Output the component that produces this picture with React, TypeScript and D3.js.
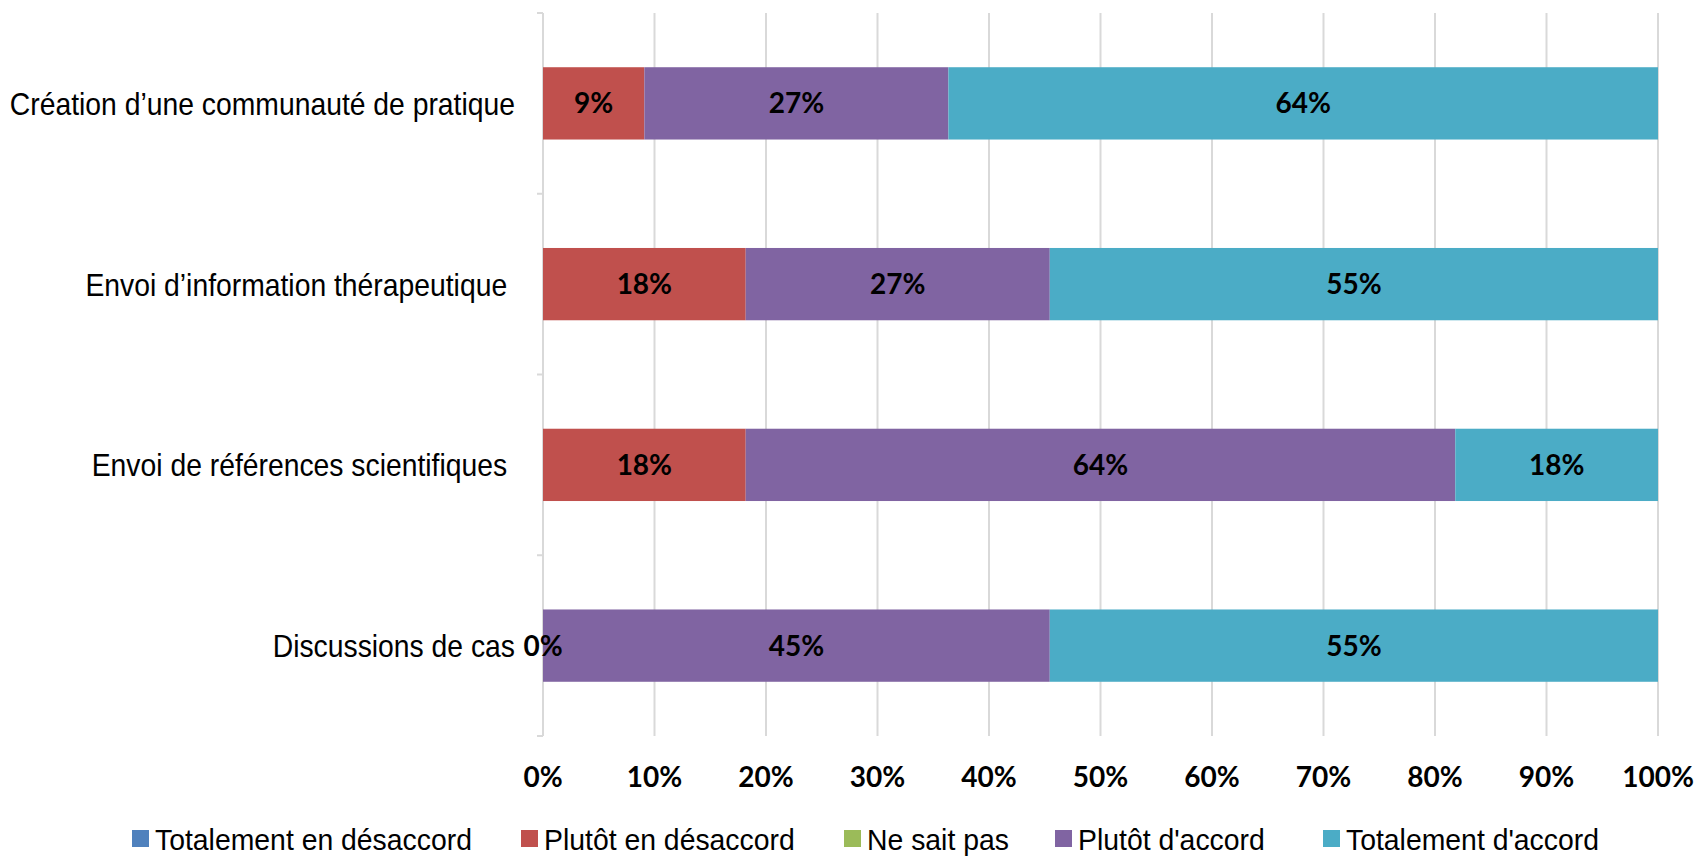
import React from "react";
import * as d3 from "d3";

const categories = [
  "Création d’une communauté de pratique",
  "Envoi d’information thérapeutique ",
  "Envoi de références scientifiques ",
  "Discussions de cas",
];
const seriesNames = [
  "Totalement en désaccord",
  "Plutôt en désaccord",
  "Ne sait pas",
  "Plutôt d'accord",
  "Totalement d'accord",
];
const seriesColors = ["#4F81BD", "#C0504D", "#9BBB59", "#8064A2", "#4BACC6"];
const totalementDesaccord: (number | null)[] = [null, null, null, null];
const plutotDesaccord: (number | null)[] = [9.09, 18.18, 18.18, 0];
const neSaitPas: (number | null)[] = [null, null, null, null];
const plutotAccord: (number | null)[] = [27.27, 27.27, 63.64, 45.45];
const totalementAccord: (number | null)[] = [63.64, 54.55, 18.18, 54.55];
const xTicks = [0, 10, 20, 30, 40, 50, 60, 70, 80, 90, 100];

const seriesValues = [totalementDesaccord, plutotDesaccord, neSaitPas, plutotAccord, totalementAccord];

const W = 1697;
const H = 856;
const narrow = "'Liberation Sans', Arial, sans-serif";
const boldFont = "Lato, 'Open Sans', sans-serif";

export default function App() {
  const x = d3.scaleLinear().domain([0, 100]).range([543, 1658]);
  const y = d3
    .scaleBand<string>()
    .domain(categories)
    .range([13, 736])
    .paddingInner(0.6)
    .paddingOuter(0.3);
  const step = y.step();
  const boundaries = d3.range(categories.length + 1).map((i) => 13 + i * step);

  const segments: { key: string; x0: number; x1: number; yy: number; color: string; v: number }[] = [];
  categories.forEach((c, ci) => {
    let acc = 0;
    seriesValues.forEach((vals, si) => {
      const v = vals[ci];
      if (v === null) return;
      segments.push({ key: `${ci}-${si}`, x0: acc, x1: acc + v, yy: y(c)!, color: seriesColors[si], v });
      acc += v;
    });
  });

  const legendX = [132, 521, 844, 1055, 1323];

  return (
    <svg
      width={W}
      height={H}
      style={{ position: "absolute", left: 0, top: 0, background: "#fff" }}
    >
      {/* gridlines */}
      {xTicks.map((t) => (
        <line key={t} x1={x(t)} x2={x(t)} y1={13} y2={736} stroke="#D9D9D9" strokeWidth={2} />
      ))}
      {/* left ticks */}
      {boundaries.map((b, i) => (
        <line key={i} x1={x(0) - 6} x2={x(0)} y1={b} y2={b} stroke="#D9D9D9" strokeWidth={2} />
      ))}
      {/* bars */}
      {segments.map((s) => (
        <rect
          key={s.key}
          x={x(s.x0)}
          y={s.yy}
          width={x(s.x1) - x(s.x0)}
          height={y.bandwidth()}
          fill={s.color}
        />
      ))}
      {/* data labels */}
      {segments.map((s) => (
        <text
          key={"l" + s.key}
          x={(x(s.x0) + x(s.x1)) / 2}
          y={s.yy + y.bandwidth() / 2}
          dy="0.36em"
          textAnchor="middle"
          fontFamily={boldFont}
          fontWeight="bold"
          fontSize={28}
          fill="#000"
        >
          {d3.format(".0f")(s.v) + "%"}
        </text>
      ))}
      {/* category labels */}
      {categories.map((c) => (
        <g key={c} transform={`translate(515,${y(c)! + y.bandwidth() / 2}) scale(0.885,1)`}>
          <text
            x={0}
            y={0}
            dy="0.36em"
            textAnchor="end"
            fontFamily={narrow}
            fontSize={32}
            fill="#000"
            style={{ whiteSpace: "pre" }}
          >
            {c}
          </text>
        </g>
      ))}
      {/* x tick labels */}
      {xTicks.map((t) => (
        <text
          key={"t" + t}
          x={x(t)}
          y={777}
          dy="0.36em"
          textAnchor="middle"
          fontFamily={boldFont}
          fontWeight="bold"
          fontSize={28}
          fill="#000"
        >
          {t + "%"}
        </text>
      ))}
      {/* legend */}
      {seriesNames.map((n, i) => (
        <g key={n} transform={`translate(${legendX[i]},830)`}>
          <rect x={0} y={0} width={17} height={17} fill={seriesColors[i]} />
          <g transform="translate(23,9) scale(0.946,1)">
            <text x={0} y={0} dy="0.36em" fontFamily={narrow} fontSize={30} fill="#000">
              {n}
            </text>
          </g>
        </g>
      ))}
    </svg>
  );
}
